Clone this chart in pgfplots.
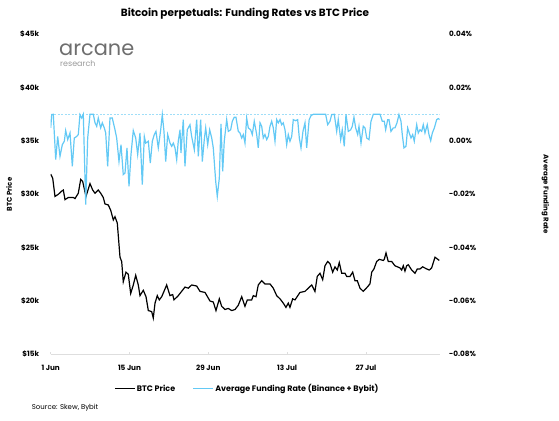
\documentclass[border=0pt]{standalone}
\usepackage{fontspec}
\setmainfont{Poppins}
\usepackage{pgfplots}
\usepackage{pgfplotstable}
\pgfplotsset{compat=1.18}
\definecolor{fund}{RGB}{99,201,245}
\definecolor{capc}{RGB}{160,222,248}
\definecolor{axgray}{RGB}{222,222,222}
\definecolor{logogray}{RGB}{110,110,110}

% BTC price (day since 1 Jun, price in $k)
\pgfplotstableread{
d p
0.00 31.9
0.36 31.5
0.76 29.8
1.35 30.0
1.95 30.3
2.24 30.4
2.54 29.5
3.13 29.7
4.01 29.7
4.32 29.6
4.90 30.1
5.33 31.4
5.68 31.2
6.27 29.8
6.98 31.0
7.46 30.4
7.87 30.1
8.45 30.4
8.88 30.1
9.34 29.7
9.64 29.1
10.23 29.0
10.66 28.5
11.12 27.6
11.42 27.9
11.83 27.3
12.31 24.1
12.61 23.7
12.89 21.8
13.37 22.7
13.78 22.5
14.21 20.7
14.67 21.5
15.10 22.4
15.56 21.5
15.86 20.5
16.45 21.0
16.93 20.4
17.34 19.1
17.94 19.0
18.22 18.4
18.53 19.8
18.93 20.5
19.29 20.1
19.72 20.4
20.60 21.5
21.19 20.5
21.67 20.6
21.90 20.1
22.66 20.5
23.85 21.3
24.44 21.2
25.04 21.5
25.93 21.4
26.52 20.9
27.41 20.8
28.29 20.0
28.88 19.9
29.36 19.1
29.95 20.2
30.37 19.5
30.96 19.2
31.55 19.3
32.15 19.1
32.74 19.2
33.32 19.6
33.93 20.4
34.51 19.5
34.92 20.1
35.70 20.1
35.99 20.5
36.47 20.4
36.87 21.5
37.48 21.9
38.06 21.6
38.95 21.6
39.54 21.2
40.14 20.5
40.73 20.2
41.31 19.8
41.79 19.4
42.20 19.8
42.50 19.4
42.98 20.2
43.39 20.1
44.28 20.8
45.17 20.9
45.75 21.2
46.36 21.5
46.94 20.9
47.35 22.3
47.83 22.6
48.31 22.0
48.72 23.3
49.20 23.7
49.61 23.5
50.09 22.7
50.50 23.2
50.91 22.9
51.26 23.6
51.69 22.6
52.27 22.6
52.58 22.3
53.16 22.3
53.64 22.7
54.05 21.9
54.46 21.9
54.94 21.2
55.52 20.9
56.23 21.3
56.71 21.6
57.02 22.7
57.42 23.0
57.90 23.7
58.37 23.9
59.07 23.8
59.25 23.9
59.56 24.5
59.96 23.7
60.57 23.7
61.15 23.3
62.04 23.1
62.34 22.9
62.63 23.3
62.93 22.8
63.23 23.3
63.52 23.4
64.12 22.9
64.71 22.6
65.12 23.0
65.59 23.0
66.07 23.2
66.79 23.0
67.25 22.9
67.67 23.1
68.26 24.1
69.02 23.8
}\pricetable

% Average funding rate (day since 1 Jun, rate in %)
\pgfplotstableread{
d r
0.00 0.0049
0.18 0.0099
0.46 0.0100
0.89 -0.0070
1.24 0.0017
1.65 -0.0058
2.06 -0.0014
2.42 -0.0001
2.66 0.0039
3.02 0.0005
3.43 0.0030
3.84 -0.0095
4.19 0.0011
4.62 0.0017
4.90 0.0024
5.20 0.0099
5.51 0.0086
5.79 0.0100
6.22 -0.0239
6.57 0.0011
6.98 0.0100
7.57 0.0100
7.87 0.0068
8.17 0.0055
8.45 0.0086
8.88 0.0049
9.17 0.0068
9.52 0.0049
9.77 0.0030
10.12 -0.0095
10.53 0.0086
10.94 0.0086
11.42 0.0042
11.72 0.0011
12.13 -0.0077
12.49 -0.0014
12.89 -0.0126
13.20 -0.0120
13.55 -0.0026
13.91 -0.0170
14.26 -0.0051
14.67 0.0039
15.10 0.0011
15.45 -0.0051
15.86 0.0030
16.27 -0.0164
16.63 0.0017
16.87 -0.0008
17.34 -0.0001
17.69 -0.0083
18.05 -0.0001
18.40 0.0024
18.70 0.0036
19.11 -0.0026
19.54 0.0042
19.82 0.0099
20.12 0.0036
20.43 -0.0077
20.78 0.0024
21.19 -0.0008
21.49 -0.0020
21.78 -0.0008
22.08 -0.0026
22.38 -0.0070
22.66 -0.0001
22.97 0.0042
23.14 -0.0045
23.55 0.0080
23.85 -0.0095
24.26 0.0042
24.74 0.0061
25.04 0.0017
25.51 -0.0033
25.93 0.0080
26.22 -0.0058
26.64 0.0080
26.93 -0.0077
27.28 0.0005
27.53 0.0049
27.89 -0.0014
28.24 0.0042
28.60 0.0011
28.88 -0.0026
29.31 -0.0152
29.59 -0.0208
29.95 -0.0139
30.25 0.0064
30.55 -0.0114
30.83 -0.0001
31.26 0.0080
31.55 0.0036
31.97 0.0042
32.26 0.0074
32.61 0.0089
32.91 0.0089
33.32 0.0036
33.62 0.0030
33.93 0.0011
34.21 0.0024
34.51 -0.0008
34.81 0.0086
35.10 0.0049
35.52 0.0042
35.81 0.0024
36.16 0.0074
36.59 0.0024
36.87 -0.0026
37.18 0.0068
37.48 0.0055
37.76 0.0011
38.06 0.0024
38.37 0.0005
38.65 0.0017
38.95 0.0055
39.25 0.0074
39.54 0.0049
39.84 -0.0001
40.14 0.0080
40.43 0.0068
40.73 0.0080
41.03 0.0061
41.31 0.0068
41.62 0.0042
41.92 -0.0014
42.20 0.0024
42.50 -0.0001
42.81 0.0017
43.09 0.0080
43.52 0.0076
43.87 0.0080
44.16 0.0011
44.46 -0.0026
44.81 0.0036
45.17 0.0068
45.47 -0.0026
45.91 0.0080
46.27 0.0096
46.68 0.0100
48.84 0.0100
49.20 0.0061
49.61 0.0074
49.91 0.0099
50.37 0.0100
50.80 0.0036
51.08 0.0080
51.51 0.0005
51.79 0.0042
52.15 -0.0020
52.45 0.0100
52.86 0.0036
53.29 0.0042
53.57 0.0055
53.87 0.0089
54.17 0.0049
54.53 0.0024
54.76 0.0055
55.12 -0.0008
55.52 0.0055
55.83 0.0049
56.13 0.0011
56.54 0.0005
56.89 0.0074
57.30 0.0100
58.49 0.0100
58.90 0.0074
59.25 0.0074
59.50 0.0042
59.86 0.0080
60.09 0.0080
60.44 0.0036
60.85 0.0049
61.15 0.0049
61.51 0.0068
61.86 0.0099
62.22 0.0074
62.45 0.0024
62.75 -0.0026
63.11 -0.0020
63.41 0.0049
63.69 0.0030
64.00 0.0011
64.30 0.0024
64.58 -0.0001
65.01 0.0061
65.29 0.0030
65.59 0.0042
65.90 0.0036
66.18 0.0061
66.48 0.0030
66.89 0.0061
67.19 0.0024
67.50 0.0001
67.79 0.0030
68.15 0.0049
68.56 0.0080
68.84 0.0084
69.10 0.0080
}\fundtable

\begin{document}
\begin{tikzpicture}[x=1bp,y=1bp]
\path[use as bounding box] (0,0) rectangle (559,420);
\pgfplotsset{
  base/.style={
    scale only axis, width=389bp, height=320bp,
    at={(50.7bp,65.7bp)}, anchor=south west,
    xmin=0, xmax=69.1,
    /pgf/number format/assume math mode=true,
    tick label style={font=\fontsize{7.3}{8}\selectfont\bfseries},
    label style={font=\fontsize{7}{8}\selectfont\bfseries},
  }
}
\begin{axis}[base,
  ymin=15, ymax=45,
  ytick={15,20,25,30,35,40,45},
  yticklabels={\$15k,\$20k,\$25k,\$30k,\$35k,\$40k,\$45k},
  xtick={0,14,28,42,56},
  xticklabels={1 Jun,15 Jun,29 Jun,13 Jul,27 Jul},
  axis x line*=bottom, axis y line*=left,
  x axis line style={draw=axgray,-},
  y axis line style={draw=none},
  xtick style={draw=axgray, line width=0.6bp},
  ytick style={draw=none},
  tick align=inside,
  major tick length=2.5bp,
  xticklabel style={yshift=-7.5bp},
  yticklabel style={xshift=-8bp},
  ylabel={BTC Price},
  ylabel style={at={(axis description cs:-0.107,0.5)}, anchor=center},
]
\addplot[black, line width=1.2bp] table[x=d, y=p] {\pricetable};
\end{axis}
\begin{axis}[base,
  ymin=-0.08, ymax=0.04,
  scaled y ticks=false,
  ytick={-0.08,-0.06,-0.04,-0.02,0,0.02,0.04},
  yticklabels={-0.08\%,-0.06\%,-0.04\%,-0.02\%,0.00\%,0.02\%,0.04\%},
  axis x line=none,
  axis y line*=right,
  y axis line style={draw=none},
  ytick style={draw=none},
  yticklabel style={xshift=6bp},
  ylabel={Average Funding Rate},
  ylabel style={at={(axis description cs:1.272,0.5)}, anchor=center, rotate=180},
  legend columns=2,
  legend style={at={(0.505,-0.108)}, anchor=center, draw=none, fill=none,
    font=\fontsize{8}{9}\selectfont\bfseries,
    nodes={inner sep=1.5bp},
    /tikz/every even column/.append style={column sep=16bp}},
  legend image code/.code={\draw[#1] (0bp,0bp) -- (20bp,0bp);},
]
\addlegendimage{black, line width=1.2bp}
\addlegendentry{BTC Price}
\addplot[capc, line width=0.6bp, dash pattern=on 2bp off 1.5bp, forget plot] coordinates {(0,0.01) (69.1,0.01)};
\addplot[fund, line width=1.2bp] table[x=d, y=r] {\fundtable};
\addlegendentry{Average Funding Rate (Binance + Bybit)}
\end{axis}
\node at (245,406) {\fontsize{10.5}{12}\selectfont\bfseries Bitcoin perpetuals: Funding Rates vs BTC Price};
\node[anchor=west, inner sep=0] at (31.7,12.7) {\fontsize{7}{8}\selectfont Source: Skew, Bybit};
\node[anchor=base west, inner sep=0, text=logogray] at (59,365) {\fontsize{21}{21}\selectfont arcane};
\node[anchor=base west, inner sep=0, text=logogray!70] at (60,354) {\fontsize{8}{9}\selectfont research};
\end{tikzpicture}
\end{document}
